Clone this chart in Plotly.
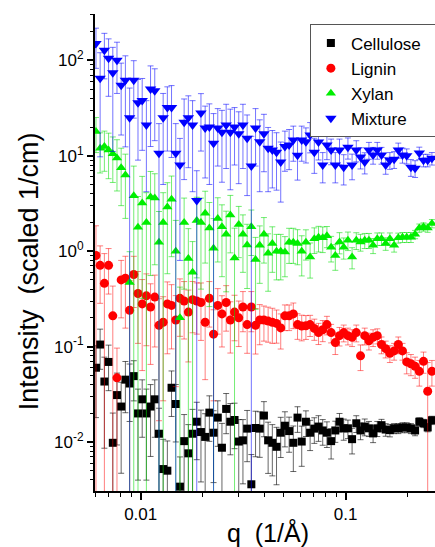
import plotly.graph_objects as go

q = [0.00605, 0.00634, 0.00665, 0.00697, 0.00731, 0.00766, 0.00803, 0.00842, 0.00883, 0.00925,
     0.00970, 0.01017, 0.01066, 0.01117, 0.01171, 0.01228, 0.01287, 0.01349, 0.01414, 0.01483,
     0.01554, 0.01629, 0.01708, 0.01791, 0.01877, 0.01968, 0.02063, 0.02163, 0.02267, 0.02377,
     0.02491, 0.02612, 0.02738, 0.02870, 0.03009, 0.03154, 0.03306, 0.03466, 0.03634, 0.03809,
     0.03993, 0.04186, 0.04388, 0.04600, 0.04822, 0.05055, 0.05299, 0.05555, 0.05824, 0.06105,
     0.06400, 0.06709, 0.07033, 0.07373, 0.07729, 0.08102, 0.08494, 0.08904, 0.09334, 0.09785,
     0.1026, 0.1075, 0.1127, 0.1182, 0.1239, 0.1299, 0.1361, 0.1427, 0.1496, 0.1568,
     0.1644, 0.1724, 0.1807, 0.1894, 0.1986, 0.2082, 0.2182, 0.2288, 0.2398, 0.2514, 0.2636]

cellulose = [0.06, 0.105, 0.043, 0.069, 0.0098, 0.031, 0.0235, 0.045, 0.041, 0.049,
             0.0199, 0.028, 0.0199, 0.0235, 0.028, 0.0122, 0.0052, 0.0050, 0.037, 0.025,
             0.0034, 0.0102, 0.0076, 0.0122, 0.0163, 0.0127, 0.0113, 0.0203, 0.0125, 0.018,
             0.0087, 0.0222, 0.0163, 0.017, 0.0101, 0.0104, 0.0138, 0.0036, 0.014, 0.0138,
             0.0189, 0.0104, 0.0098, 0.0089, 0.0125, 0.0148, 0.013, 0.0098, 0.018, 0.0101,
             0.0163, 0.0125, 0.0138, 0.0145, 0.0132, 0.0125, 0.0102, 0.0132, 0.0163, 0.0139,
             0.0139, 0.0107, 0.0157, 0.0132, 0.0145, 0.0139, 0.0123, 0.0139, 0.0150, 0.0135,
             0.0133, 0.0139, 0.0139, 0.0142, 0.0142, 0.0139, 0.0132, 0.0163, 0.0157, 0.0142, 0.0169]
cellulose_rel = [0.7, 0.45, 0.8, 0.5, 1.05, 0.7, 0.8, 0.55, 0.6, 0.45,
                 0.8, 0.6, 0.8, 0.7, 0.6, 0.85, 1.05, 1.05, 0.5, 0.6,
                 1.05, 0.9, 1.0, 0.8, 0.6, 0.7, 0.75, 0.5, 0.7, 0.5,
                 0.8, 0.45, 0.55, 0.5, 0.7, 0.65, 0.55, 1.05, 0.5, 0.5,
                 0.4, 0.55, 0.55, 0.6, 0.45, 0.4, 0.4, 0.5, 0.3, 0.45,
                 0.3, 0.35, 0.3, 0.3, 0.3, 0.3, 0.35, 0.25, 0.22, 0.25,
                 0.22, 0.3, 0.2, 0.2, 0.2, 0.18, 0.2, 0.18, 0.15, 0.15,
                 0.15, 0.12, 0.12, 0.12, 0.12, 0.12, 0.12, 0.1, 0.1, 0.1, 0.1]

lignin = [0.9, 0.71, 0.46, 0.71, 0.21, 0.047, 0.5, 0.52, 0.24, 0.57,
          0.36, 0.28, 0.34, 0.26, 0.33, 0.167, 0.18, 0.28, 0.27, 0.19,
          0.32, 0.3, 0.23, 0.31, 0.3, 0.29, 0.18, 0.32, 0.135, 0.27,
          0.22, 0.29, 0.19, 0.23, 0.2, 0.26, 0.17, 0.26, 0.167, 0.19,
          0.19, 0.185, 0.18, 0.175, 0.157, 0.21, 0.21, 0.22, 0.17, 0.164,
          0.165, 0.17, 0.155, 0.14, 0.15, 0.17, 0.14, 0.11, 0.13, 0.14,
          0.13, 0.125, 0.14, 0.08, 0.13, 0.115, 0.125, 0.13, 0.105, 0.095,
          0.085, 0.09, 0.105, 0.09, 0.069, 0.066, 0.062, 0.055, 0.07, 0.034, 0.055]
lignin_rel = [1.05, 0.6, 1.05, 0.5, 1.05, 1.05, 0.6, 0.7, 1.05, 0.55,
              0.7, 0.8, 0.7, 0.75, 0.7, 0.9, 0.85, 0.7, 0.65, 0.8,
              0.6, 0.6, 0.7, 0.55, 0.55, 0.6, 0.75, 0.5, 0.8, 0.5,
              0.55, 0.5, 0.55, 0.5, 0.5, 0.45, 0.5, 0.45, 0.5, 0.45,
              0.4, 0.4, 0.4, 0.38, 0.4, 0.3, 0.3, 0.3, 0.3, 0.3,
              0.28, 0.25, 0.25, 0.25, 0.25, 0.22, 0.22, 0.25, 0.22, 0.2,
              0.2, 0.2, 0.2, 0.3, 0.2, 0.2, 0.2, 0.18, 0.2, 0.2,
              0.2, 0.2, 0.2, 0.2, 0.25, 0.25, 0.25, 0.3, 0.25, 1.0, 0.3]

xylan = [18.0, 12.0, 12.5, 11.5, 10.5, 9.5, 7.5, 6.3, 0.47, 3.8,
         1.78, 3.2, 2.0, 3.7, 3.6, 1.24, 2.0, 2.9, 3.5, 1.0,
         0.2, 2.0, 0.84, 0.6, 2.1, 2.0, 2.5, 1.75, 1.07, 2.2,
         1.8, 1.5, 2.4, 0.85, 1.9, 1.5, 1.16, 1.8, 0.82, 1.15,
         1.5, 0.95, 1.2, 1.0, 1.0, 0.98, 1.24, 1.24, 1.2, 1.0,
         1.24, 0.87, 1.35, 1.4, 1.38, 1.45, 1.1, 0.9, 1.25, 1.1,
         1.3, 0.87, 1.3, 1.25, 1.3, 1.3, 1.15, 1.35, 1.35, 1.2,
         1.35, 1.15, 1.38, 1.4, 1.4, 1.4, 1.5, 1.75, 1.8, 1.75, 1.95]
xylan_rel = [0.4, 0.45, 0.45, 0.5, 0.5, 0.55, 0.6, 0.65, 1.1, 1.05,
             1.1, 0.9, 1.05, 0.85, 0.8, 1.1, 1.05, 0.8, 0.75, 1.1,
             1.1, 0.8, 1.05, 1.1, 0.75, 0.8, 0.7, 0.85, 1.05, 0.65,
             0.7, 0.75, 0.6, 1.05, 0.55, 0.6, 0.65, 0.5, 0.7, 0.6,
             0.5, 0.6, 0.5, 0.5, 0.5, 0.45, 0.4, 0.4, 0.4, 0.45,
             0.35, 0.4, 0.3, 0.3, 0.3, 0.25, 0.3, 0.3, 0.25, 0.25,
             0.22, 0.25, 0.2, 0.2, 0.18, 0.18, 0.18, 0.15, 0.15, 0.15,
             0.15, 0.15, 0.12, 0.12, 0.12, 0.12, 0.1, 0.1, 0.1, 0.1, 0.1]

mixture = [150, 65, 128, 105, 74, 100, 55, 62, 25, 62,
           36, 38, 21, 50, 48, 10.6, 25, 32, 32, 10.6,
           8.0, 22.5, 25, 21, 3.4, 28, 19.5, 20, 13.5, 19.5,
           17.6, 21, 17.6, 20, 17, 21, 15.3, 7.8, 19.5, 14,
           17, 12, 11.5, 10.9, 8.6, 12.5, 13, 14.6, 10.1, 14.6,
           14, 16.5, 10.9, 13.9, 8.0, 13, 11.5, 8.0, 11.5, 7.6,
           12.3, 8.0, 11.5, 9.7, 8.6, 11.5, 10.2, 11.5, 10.2, 8.0,
           9.0, 9.2, 11.5, 10.2, 10.0, 7.6, 7.4, 10.7, 9.0, 9.0, 9.4]
mixture_rel = [0.45, 0.85, 0.5, 0.6, 0.85, 0.55, 0.7, 0.8, 1.05, 0.6,
               0.75, 0.7, 0.8, 0.75, 0.7, 1.05, 0.8, 0.65, 0.7, 1.05,
               0.9, 0.75, 0.7, 0.8, 1.05, 0.6, 0.7, 0.75, 1.05, 0.6,
               0.7, 0.65, 0.75, 0.6, 0.7, 0.65, 0.75, 1.05, 0.6, 0.7,
               0.6, 0.65, 0.6, 0.6, 0.62, 0.45, 0.45, 0.4, 0.45, 0.4,
               0.4, 0.35, 0.4, 0.35, 0.35, 0.3, 0.3, 0.35, 0.3, 0.35,
               0.25, 0.3, 0.25, 0.25, 0.25, 0.2, 0.2, 0.2, 0.2, 0.2,
               0.2, 0.2, 0.18, 0.18, 0.18, 0.2, 0.2, 0.15, 0.15, 0.15, 0.15]

series_names = ["Cellulose", "Lignin", "Xylan", "Mixture"]
series_vals = [cellulose, lignin, xylan, mixture]
series_rel = [cellulose_rel, lignin_rel, xylan_rel, mixture_rel]
colors = ["#000000", "#ff0000", "#00ee00", "#0000ff"]
err_colors = ["rgba(0,0,0,0.6)", "rgba(255,0,0,0.5)", "rgba(0,220,0,0.55)", "rgba(0,0,255,0.55)"]
symbols = ["square", "circle", "triangle-up", "triangle-down"]
sizes = [8, 9, 9, 10]

x_major = [0.01, 0.1]
x_major_text = ["0.01", "0.1"]
x_minor = [0.006, 0.007, 0.008, 0.009, 0.02, 0.03, 0.04, 0.05, 0.06, 0.07, 0.08, 0.09, 0.2]
y_major = [0.01, 0.1, 1, 10, 100]
y_major_text = ["10<sup>-2</sup>", "10<sup>-1</sup>", "10<sup>0</sup>", "10<sup>1</sup>", "10<sup>2</sup>"]
y_minor = [m * d for d in [0.001, 0.01, 0.1, 1, 10, 100] for m in range(2, 10)]

pad = "\u00a0" * 2

fig = go.Figure()
for name, vals, rel, c, ec, sym, sz in zip(series_names, series_vals, series_rel, colors,
                                          err_colors, symbols, sizes):
    err = [v * r for v, r in zip(vals, rel)]
    fig.add_trace(go.Scatter(
        x=q, y=vals, mode="markers", name=name + pad,
        marker=dict(symbol=sym, color=c, size=sz, line=dict(width=0)),
        error_y=dict(type="data", array=err, arrayminus=err, visible=True,
                     color=ec, thickness=1, width=3),
    ))

font_family = "Liberation Sans"
fig.update_layout(
    width=435, height=547,
    margin=dict(l=95, r=0, t=14, b=56, autoexpand=False),
    paper_bgcolor="white", plot_bgcolor="white",
    font=dict(family=font_family, size=17, color="black"),
    showlegend=True,
    legend=dict(x=0.632, y=0.978, xanchor="left", yanchor="top",
                bgcolor="white", bordercolor="#555555", borderwidth=1,
                font=dict(size=17, family=font_family), tracegroupgap=0),
    xaxis=dict(type="log", range=[-2.223, -0.564], showgrid=False, zeroline=False,
               showline=True, linecolor="black", linewidth=2, mirror=False,
               tickmode="array", tickvals=x_major, ticktext=x_major_text,
               ticks="outside", ticklen=7, tickwidth=1.5, tickcolor="black",
               tickfont=dict(size=17, family=font_family),
               minor=dict(tickmode="array", tickvals=x_minor, ticks="outside",
                          ticklen=4, tickwidth=1.2, tickcolor="black", showgrid=False)),
    yaxis=dict(type="log", range=[-2.514, 2.486], showgrid=False, zeroline=False,
               showline=True, linecolor="black", linewidth=2, mirror=False,
               tickmode="array", tickvals=y_major, ticktext=y_major_text,
               ticks="outside", ticklen=6, tickwidth=1.5, tickcolor="black",
               tickfont=dict(size=17, family=font_family),
               minor=dict(tickmode="array", tickvals=y_minor, ticks="outside",
                          ticklen=3, tickwidth=1.2, tickcolor="black", showgrid=False)),
    annotations=[
        dict(text="Intensity  (scaled 1/cm)", xref="paper", yref="paper",
             x=-0.194, y=0.461, xanchor="center", yanchor="middle", textangle=-90,
             showarrow=False, font=dict(size=27, family=font_family)),
        dict(text="q  (1/Å)", xref="paper", yref="paper",
             x=0.51, y=-0.088, xanchor="center", yanchor="middle",
             showarrow=False, font=dict(size=25, family=font_family)),
    ],
)

fig.write_html("out.html")
